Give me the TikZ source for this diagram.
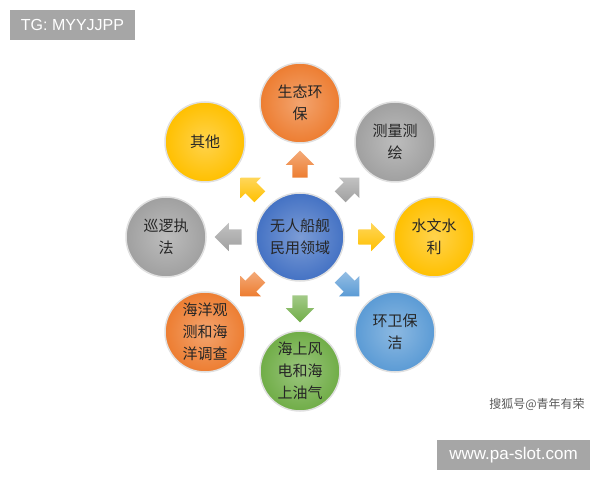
\documentclass[tikz,border=0pt]{standalone}
\usepackage{fontspec}
\setmainfont{Liberation Sans}
\newfontfamily\cjk{Noto Sans CJK SC}
\usetikzlibrary{shapes.arrows}

\definecolor{orangeC}{RGB}{237,125,49}
\definecolor{grayC}{RGB}{160,160,160}
\definecolor{yellowC}{RGB}{255,192,0}
\definecolor{blueC}{RGB}{91,155,213}
\definecolor{greenC}{RGB}{112,173,71}
\definecolor{hubblue}{RGB}{68,114,196}
\definecolor{tagC}{RGB}{166,166,166}

\tikzset{
    ball/.style={circle, minimum size=80pt, inner sep=0pt, draw=black!12,
        line width=1.5pt, inner color=#1!70!white, outer color=#1,
        align=center, text=black!85, font=\cjk\fontsize{15}{22}\selectfont},
    hub/.style={ball=#1, minimum size=88pt},
    blockarrow/.style={single arrow, minimum height=27pt, minimum width=28pt,
        single arrow head extend=6.5pt, inner xsep=0pt, inner ysep=7.5pt,
        top color=#1!65!white, bottom color=#1},
    tag/.style={fill=tagC, text=white, inner sep=0pt}
}

\begin{document}
\begin{tikzpicture}[x=1pt,y=1pt]

\useasboundingbox (0,0) rectangle (600,480);

\node[hub=hubblue] (hub) at (300,243) {无人船舰\\民用领域};

\node[ball=orangeC] (eco) at (300,377) {生态环\\保};
\node[ball=grayC] (survey) at (395,338) {测量测\\绘};
\node[ball=yellowC] (hydro) at (434,243) {水文水\\利};
\node[ball=blueC] (clean) at (395,148) {环卫保\\洁};
\node[ball=greenC] (wind) at (300,109) {海上风\\电和海\\上油气};
\node[ball=orangeC] (ocean) at (205,148) {海洋观\\测和海\\洋调查};
\node[ball=grayC] (patrol) at (166,243) {巡逻执\\法};
\node[ball=yellowC] (other) at (205,338) {其他};

\node[blockarrow=orangeC, rotate=90] (toEco) at (300,312) {};
\node[blockarrow=grayC, rotate=45] (toSurvey) at (347,290) {};
\node[blockarrow=yellowC] (toHydro) at (368,243) {};
\node[blockarrow=blueC, rotate=-45] (toClean) at (347,196) {};
\node[blockarrow=greenC, rotate=-90] (toWind) at (300,175) {};
\node[blockarrow=orangeC, rotate=-135] (toOcean) at (253,196) {};
\node[blockarrow=grayC, rotate=180] (toPatrol) at (232,243) {};
\node[blockarrow=yellowC, rotate=135] (toOther) at (253,290) {};

\node[tag, minimum width=125pt, minimum height=30pt, font=\fontsize{16}{16}\selectfont]
    (tg) at (72.5,455) {TG: MYYJJPP};
\node[tag, minimum width=153pt, minimum height=30pt, font=\fontsize{17}{17}\selectfont]
    (site) at (513.5,25) {www.pa-slot.com};
\node[text=black!65, font=\cjk\fontsize{12}{12}\selectfont] (mark) at (537,76) {搜狐号@青年有荣};

\end{tikzpicture}
\end{document}
